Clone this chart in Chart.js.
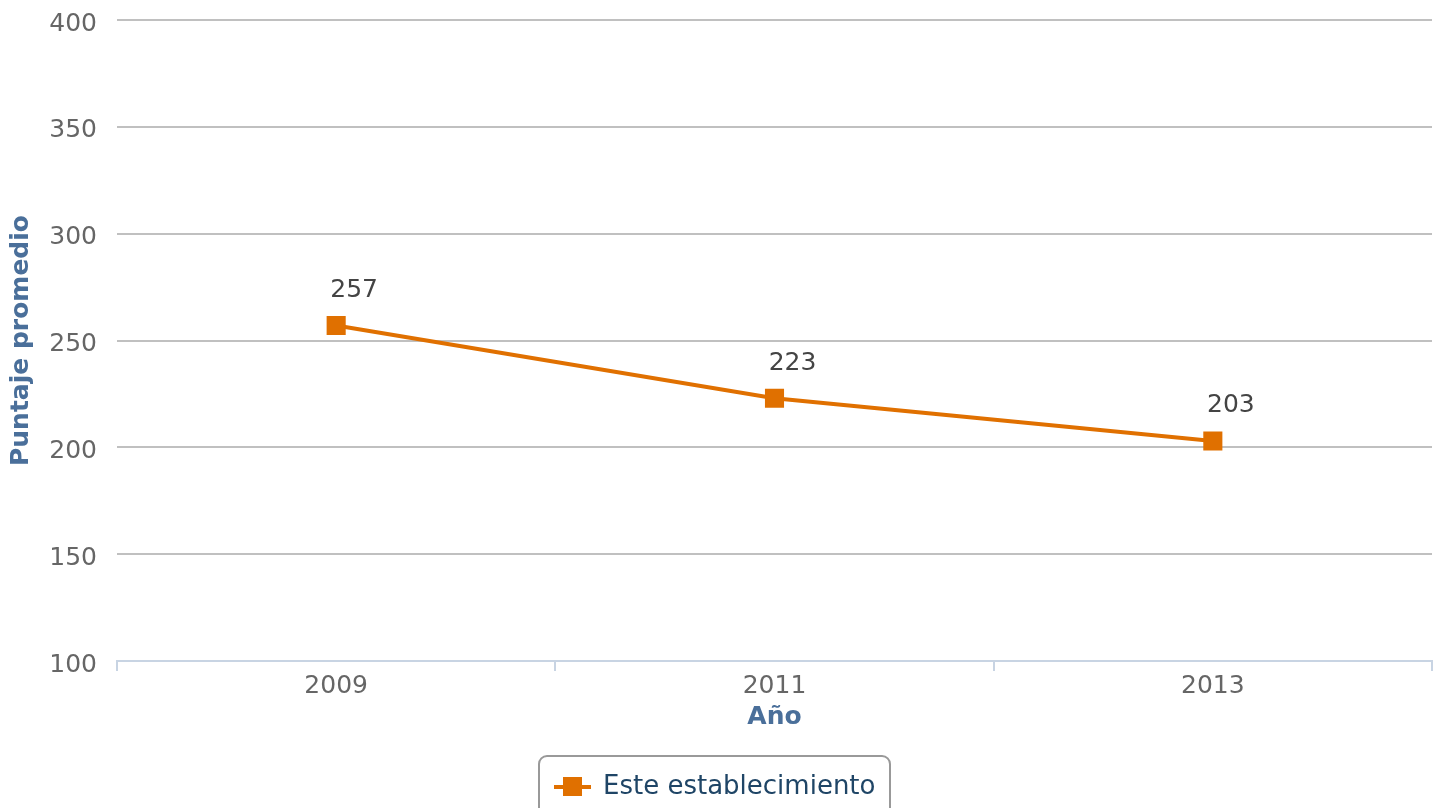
<!DOCTYPE html>
<html>
<head>
<meta charset="utf-8">
<script src="https://cdn.jsdelivr.net/npm/chart.js@4"></script>
<style>
  html, body { margin: 0; padding: 0; background: #fff; overflow: hidden; }
  #wrap { position: relative; width: 1436px; height: 808px; overflow: hidden; }
  #legend {
    position: absolute; left: 538px; top: 755px; width: 353px; height: 70px;
    border: 2px solid #999; border-radius: 9px; box-sizing: border-box;
    font-family: "DejaVu Sans", sans-serif; font-size: 26px; color: #1f4566;
  }
  #legend .mark { position: absolute; left: 14px; top: 28px; width: 37px; height: 4px; background: #e07000; }
  #legend .mark::after { content: ''; position: absolute; left: 9px; top: -8px; width: 19px; height: 19px; background: #e07000; }
  #legend .txt { position: absolute; left: 63px; top: 13px; white-space: nowrap; }
</style>
</head>
<body>
<div id="wrap">
  <canvas id="chart" width="1436" height="808"></canvas>
  <div id="legend"><span class="mark"></span><span class="txt">Este establecimiento</span></div>
</div>
<script>
const years = ['2009', '2011', '2013'];
const puntajes = [257, 223, 203];
const yTicks = [100, 150, 200, 250, 300, 350, 400];

const orange = '#e07000';
const font = 'DejaVu Sans';

// data labels above each point
const pointLabels = {
  id: 'pointLabels',
  afterDatasetsDraw(chart) {
    const ctx = chart.ctx;
    const meta = chart.getDatasetMeta(0);
    ctx.save();
    ctx.font = '25px "' + font + '"';
    ctx.fillStyle = '#444';
    ctx.textAlign = 'center';
    ctx.textBaseline = 'middle';
    meta.data.forEach((pt, i) => {
      ctx.fillText(String(puntajes[i]), pt.x + 18, pt.y - 35);
    });
    ctx.restore();
  }
};

new Chart(document.getElementById('chart'), {
  type: 'line',
  data: {
    labels: years,
    datasets: [{
      label: 'Este establecimiento',
      data: puntajes,
      borderColor: orange,
      backgroundColor: orange,
      borderWidth: 4,
      pointStyle: 'rect',
      pointRadius: 13.5,
      pointHoverRadius: 13.5,
      pointBorderWidth: 0,
      tension: 0
    }]
  },
  options: {
    responsive: false,
    animation: false,
    layout: { autoPadding: false, padding: { top: 20, right: 4, bottom: 72, left: 0 } },
    plugins: {
      legend: { display: false },
      tooltip: { enabled: false }
    },
    scales: {
      x: {
        offset: true,
        border: { display: true, color: '#c8d4e3', width: 2 },
        grid: { offset: true, drawOnChartArea: false, drawTicks: true, tickLength: 10, color: '#c8d4e3', lineWidth: 2 },
        ticks: { color: '#666', font: { family: font, size: 25 }, padding: 0 },
        title: { display: true, text: 'Año', color: '#4a6f9a', font: { family: font, size: 25, weight: 'bold' }, padding: { top: 1, bottom: 4 } }
      },
      y: {
        min: 100,
        max: 400,
        afterFit: s => { s.width = 117; s.paddingTop = 0; s.paddingBottom = 0; },
        afterBuildTicks: s => { s.ticks = yTicks.map(v => ({ value: v })); },
        border: { display: false },
        grid: {
          drawTicks: false,
          color: c => c.tick && c.tick.value === 100 ? 'rgba(0,0,0,0)' : '#c0c0c0',
          lineWidth: 2
        },
        ticks: { color: '#666', font: { family: font, size: 25 }, padding: 20, labelOffset: 4 },
        title: { display: true, text: 'Puntaje promedio', color: '#4a6f9a', font: { family: font, size: 25, weight: 'bold' }, padding: { top: 6, bottom: 0 } }
      }
    }
  },
  plugins: [pointLabels]
});
</script>
</body>
</html>
